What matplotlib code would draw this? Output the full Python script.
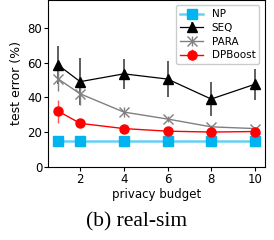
import numpy as np
import matplotlib.pyplot as plt

# privacy budgets and test errors (%)
budget = [1, 2, 4, 6, 8, 10]

np_err = [15, 15, 15, 15, 15, 15]
np_std = [0.3, 0.3, 0.3, 0.3, 0.3, 0.3]

seq_err = [58.5, 49, 53.5, 50.5, 39, 47.5]
seq_std = [11, 13.5, 8.5, 10.5, 9.7, 9]

para_err = [50.5, 42, 31.5, 27.5, 23, 22]
para_std = [7, 6.5, 3, 1.5, 1, 0.8]

dp_err = [32, 25, 22, 20.5, 20, 20.3]
dp_std = [6.7, 1, 0.8, 0.6, 0.5, 0.6]

fig = plt.figure(figsize=(2.74, 2.4), dpi=100)
ax = fig.add_axes([0.177, 0.305, 0.789, 0.695])

ax.errorbar(budget, np_err, yerr=np_std, color='#66d0f5', marker='s',
            markersize=6.5, mfc='#00b4f0', mec='#00b4f0', lw=1.8, label='NP')
ax.errorbar(budget, seq_err, yerr=seq_std, color='black', marker='^',
            markersize=6.5, lw=0.9, ecolor='#444444', elinewidth=1.2, label='SEQ')
ax.errorbar(budget, para_err, yerr=para_std, color='gray', marker='x',
            markersize=6.5, mew=1.0, lw=1.0, label='PARA')
ax.errorbar(budget, dp_err, yerr=dp_std, color='red', marker='o',
            markersize=6.5, lw=1.0, ecolor='#ff5555', label='DPBoost')

ax.set_ylim(0, 96)
ax.set_xticks([2, 4, 6, 8, 10])
ax.set_yticks([0, 20, 40, 60, 80])
ax.tick_params(labelsize=8.5, length=3, pad=1.5)
ax.set_xlabel('privacy budget', fontsize=8.5, labelpad=1.5)
ax.set_ylabel('test error (%)', fontsize=9, labelpad=3)
ax.legend(loc='upper right', fontsize=7.5, handlelength=2.2, borderpad=0.4,
          labelspacing=0.35, framealpha=1)

fig.text(0.5, 0.076, '(b) real-sim', ha='center', va='center',
         fontsize=15.5, family='Liberation Serif')

fig.savefig('out.png', dpi=100)
